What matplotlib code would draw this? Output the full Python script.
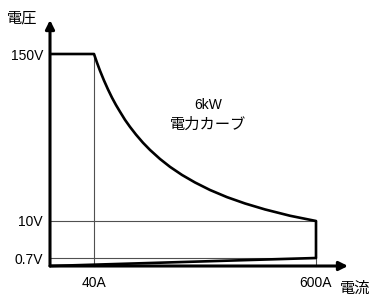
import numpy as np
import matplotlib
matplotlib.use("Agg")
import matplotlib.pyplot as plt
import matplotlib.transforms as mtrans

# ---------------- data ----------------
volt_ticks = [0.7, 10, 150]
volt_labels = ["0.7V", "10V", "150V"]
amp_ticks = [40, 600]
amp_labels = ["40A", "600A"]

# constant-voltage segment, power curve, low-voltage end
cv_current = [0]
cv_voltage = [150]
curve_current = [40, 47.6, 55.1, 65.2, 75.3, 85.4, 95.5, 105.6, 118.2, 130.8, 146.0,
                 163.6, 181.2, 206.5, 231.7, 262.0, 294.8, 332.6, 375.5, 420.9,
                 471.3, 534.4, 600]
curve_voltage = [150, 142.7, 136.0, 127.8, 120.3, 113.4, 107.2, 101.6, 94.8, 88.9,
                 82.4, 75.6, 69.6, 62.0, 55.4, 48.6, 42.3, 36.0, 30.0, 24.7, 19.7,
                 14.4, 10]
end_current = [600, 0]
end_voltage = [0.7, 0]

power_label = "6kW"
curve_label = "電力カーブ"
x_title = "電流"
y_title = "電圧"

# ---------------- schematic (non-linear) axis scales ----------------
W, H = 374, 297
AMP_ANCHORS, AMP_PX = [0, 40, 600], [50, 94, 316]
VOLT_ANCHORS, VOLT_PX = [0, 0.7, 10, 150], [31, 39, 76, 243]


def pw(x, xs, ys):
    x = np.asarray(x, dtype=float)
    y = np.interp(x, xs, ys)
    s0 = (ys[1] - ys[0]) / (xs[1] - xs[0])
    s1 = (ys[-1] - ys[-2]) / (xs[-1] - xs[-2])
    y = np.where(x < xs[0], ys[0] + (x - xs[0]) * s0, y)
    y = np.where(x > xs[-1], ys[-1] + (x - xs[-1]) * s1, y)
    return y


xf = lambda v: pw(v, AMP_ANCHORS, AMP_PX)
xi = lambda p: pw(p, AMP_PX, AMP_ANCHORS)
yf = lambda v: pw(v, VOLT_ANCHORS, VOLT_PX)
yi = lambda p: pw(p, VOLT_PX, VOLT_ANCHORS)

fig = plt.figure(figsize=(W / 100, H / 100), dpi=100)
ax = fig.add_axes([0, 0, 1, 1])
ax.set_xscale("function", functions=(xf, xi))
ax.set_yscale("function", functions=(yf, yi))
ax.set_xlim(float(xi(0)), float(xi(W)))
ax.set_ylim(float(yi(0)), float(yi(H)))
for s in ax.spines.values():
    s.set_visible(False)
ax.patch.set_alpha(0)

LAT = "Liberation Sans"
CJK = ["Noto Sans CJK JP", "DejaVu Sans"]
thin = dict(color="#505050", lw=0.8, zorder=2)

# thin guide lines
ax.plot([amp_ticks[0], amp_ticks[0]], [0, volt_ticks[2]], **thin)
ax.plot([0, amp_ticks[1]], [volt_ticks[1], volt_ticks[1]], **thin)
ax.plot([0, amp_ticks[1]], [volt_ticks[0], volt_ticks[0]], **thin)
ax.plot([amp_ticks[1], amp_ticks[1]], [0, volt_ticks[0]], **thin)

# thick operating envelope (one continuous path)
env_x = np.concatenate([cv_current, curve_current, end_current])
env_y = np.concatenate([cv_voltage, curve_voltage, end_voltage])
ax.plot(env_x, env_y, color="black", lw=1.9, zorder=3,
        solid_joinstyle="round", solid_capstyle="butt")

# axes arrows
arrow = dict(arrowstyle="-|>", lw=2.2, color="black", mutation_scale=13,
             shrinkA=0, shrinkB=0)
ax.annotate("", xy=(0, 1 - 20 / H), xycoords=ax.get_xaxis_transform(),
            xytext=(0, 0), textcoords="data", arrowprops=arrow, zorder=4)
ax.annotate("", xy=(348 / W, 0), xycoords=ax.get_yaxis_transform(),
            xytext=(0, 0), textcoords="data", arrowprops=arrow, zorder=4)

# ticks
ax.set_yticks(volt_ticks, volt_labels)
ax.set_xticks(amp_ticks, amp_labels)
ax.minorticks_off()
ax.tick_params(axis="both", length=0, labelsize=10)
ax.tick_params(axis="y", pad=5)
ax.tick_params(axis="x", pad=7.5)
for lab in ax.get_xticklabels() + ax.get_yticklabels():
    lab.set_fontfamily(LAT)

# move tick labels next to the drawn axes (axis lines at data 0)
for lab in ax.get_yticklabels():
    lab.set_transform(lab.get_transform() + mtrans.ScaledTranslation(50 / 100, 0, fig.dpi_scale_trans))
for lab in ax.get_xticklabels():
    lab.set_transform(lab.get_transform() + mtrans.ScaledTranslation(0, 31 / 100, fig.dpi_scale_trans))

# texts
fig.text(7 / W, 1 - 18 / H, y_title, family=CJK, fontsize=11, ha="left", va="center")
fig.text(340 / W, 1 - 288 / H, x_title, family=CJK, fontsize=11, ha="left", va="center")
fig.text(208 / W, 1 - 105 / H, power_label, family=LAT, fontsize=10, ha="center", va="center")
fig.text(208 / W, 1 - 124 / H, curve_label, family=CJK, fontsize=11, ha="center", va="center")

fig.savefig("out.png", dpi=100)
